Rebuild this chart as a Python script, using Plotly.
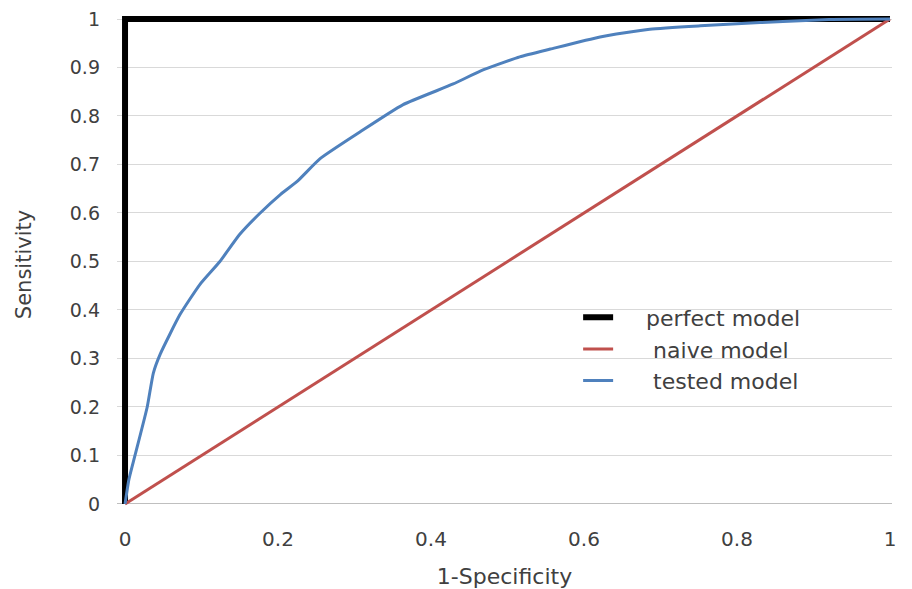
import plotly.graph_objects as go

# Data
perfect_x = [0, 0, 1]
perfect_y = [0, 1, 1]

naive_x = [0, 1]
naive_y = [0, 1]

tested_x = [0, 0.005, 0.013, 0.029, 0.037, 0.046, 0.072, 0.098, 0.124, 0.150,
            0.176, 0.203, 0.225, 0.255, 0.307, 0.363, 0.429, 0.465, 0.516, 0.556,
            0.621, 0.686, 0.752, 0.8, 0.86, 0.92, 1.0]
tested_y = [0, 0.05, 0.10, 0.20, 0.27, 0.309, 0.391, 0.453, 0.50, 0.556,
            0.599, 0.638, 0.665, 0.712, 0.767, 0.823, 0.866, 0.893, 0.922, 0.938,
            0.963, 0.979, 0.986, 0.99, 0.995, 0.999, 1.0]

x_ticks = [0, 0.2, 0.4, 0.6, 0.8, 1]
x_ticktext = ["0", "0.2", "0.4", "0.6", "0.8", "1"]
y_ticks = [0, 0.1, 0.2, 0.3, 0.4, 0.5, 0.6, 0.7, 0.8, 0.9, 1]
y_ticktext = ["0", "0.1", "0.2", "0.3", "0.4", "0.5", "0.6", "0.7", "0.8", "0.9", "1"]

FONT = "DejaVu Sans"
TXT = "#404040"
NB = "\u00a0"

fig = go.Figure()
fig.add_trace(go.Scatter(x=perfect_x, y=perfect_y, mode="lines", name=NB * 4 + "perfect model",
                         line=dict(color="#000000", width=6), legendgroup="a"))
fig.add_trace(go.Scatter(x=naive_x, y=naive_y, mode="lines", name=NB * 5 + "naive model",
                         line=dict(color="#c0504d", width=3), legendgroup="b"))
fig.add_trace(go.Scatter(x=tested_x, y=tested_y, mode="lines", name=NB * 5 + "tested model",
                         line=dict(color="#4f81bd", width=3, shape="spline", smoothing=0.5),
                         legendgroup="c"))

# page body has an 8px default margin: the figure starts at (8, 8)
fig.update_layout(
    width=904, height=581,
    margin=dict(l=109, r=20, t=6, b=74),
    paper_bgcolor="white", plot_bgcolor="white",
    font=dict(family=FONT, size=20, color=TXT),
    showlegend=True,
    legend=dict(x=0.595, y=0.436, xanchor="left", yanchor="top",
                bgcolor="rgba(0,0,0,0)", font=dict(size=22, color=TXT),
                tracegroupgap=0, itemwidth=30),
    xaxis=dict(range=[-0.0105, 1.0026], tickvals=x_ticks, ticktext=x_ticktext,
               showgrid=False, zeroline=False, showline=False, ticks="",
               automargin=False,
               title=dict(text="1-Specificity", font=dict(size=22, color=TXT), standoff=19),
               ticklabelstandoff=10),
    yaxis=dict(range=[-0.0227, 1.0103], tickvals=y_ticks, ticktext=y_ticktext,
               showgrid=True, gridcolor="#d9d9d9", gridwidth=1,
               zeroline=True, zerolinecolor="#bfbfbf", zerolinewidth=1,
               showline=False, ticks="", automargin=False,
               ticklabeloverflow="allow",
               tickfont=dict(size=19, color=TXT),
               title=dict(text="Sensitivity", font=dict(size=21, color=TXT), standoff=32),
               ticklabelstandoff=16),
)

fig.write_html("out.html")
